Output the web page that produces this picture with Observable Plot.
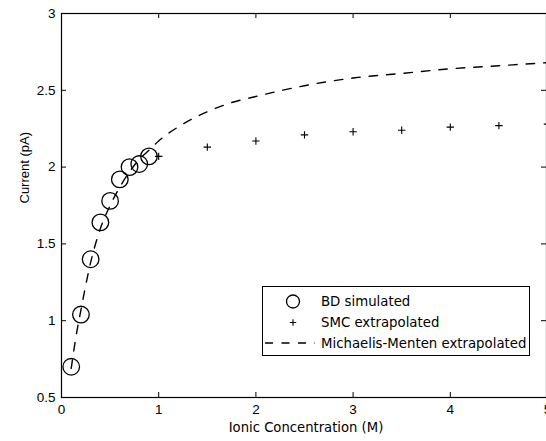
<!DOCTYPE html>
<html>
<head>
<meta charset="utf-8">
<script src="https://cdn.jsdelivr.net/npm/d3@7"></script>
<script src="https://cdn.jsdelivr.net/npm/@observablehq/plot@0.6"></script>
<style>
  html, body { margin: 0; padding: 0; background: #fff; }
  #wrap { position: relative; width: 546px; height: 441px; overflow: hidden; font-family: "Liberation Sans", Arial, sans-serif; }
  #legend { position: absolute; left: 262px; top: 286px; width: 268px; height: 70px; box-sizing: border-box;
            border: 1px solid #000; background: #fff; }
  #legend svg { display: block; }
</style>
</head>
<body>
<div id="wrap"></div>
<script>
// ---- data ----
const bdConc    = [0.1, 0.2, 0.3, 0.4, 0.5, 0.6, 0.7, 0.8, 0.9];
const bdCurrent = [0.70, 1.04, 1.40, 1.64, 1.78, 1.92, 2.00, 2.02, 2.07];

const smcConc    = [1, 1.5, 2, 2.5, 3, 3.5, 4, 4.5, 5];
const smcCurrent = [2.07, 2.13, 2.17, 2.21, 2.23, 2.24, 2.26, 2.27, 2.28];

const mmConc    = [0.1, 0.15, 0.2, 0.3, 0.4, 0.5, 0.6, 0.7, 0.8, 0.9, 1.0, 1.25, 1.5, 1.75, 2.0, 2.5, 3.0, 3.5, 4.0, 4.5, 5.0];
const mmCurrent = [0.69, 0.90, 1.07, 1.38, 1.60, 1.75, 1.87, 1.97, 2.05, 2.11, 2.17, 2.28, 2.36, 2.42, 2.46, 2.53, 2.58, 2.61, 2.64, 2.66, 2.68];

const xTicks = [0, 1, 2, 3, 4, 5];
const xTickLabels = ["0", "1", "2", "3", "4", "5"];
const yTicks = [0.5, 1, 1.5, 2, 2.5, 3];
const yTickLabels = ["0.5", "1", "1.5", "2", "2.5", "3"];

const xLabel = "Ionic Concentration (M)";
const yLabel = "Current (pA)";
const legendLabels = ["BD simulated", "SMC extrapolated", "Michaelis-Menten extrapolated"];

// ---- tables built from the arrays ----
const bd  = bdConc.map((c, i) => ({c, v: bdCurrent[i]}));
const smc = smcConc.map((c, i) => ({c, v: smcCurrent[i]}));
const mm  = mmConc.map((c, i) => ({c, v: mmCurrent[i]}));

const plusSymbol = {
  draw(context, size) {
    const h = Math.sqrt(size / Math.PI);
    context.moveTo(-h, 0); context.lineTo(h, 0);
    context.moveTo(0, -h); context.lineTo(0, h);
  }
};

const W = 546, H = 441, mL = 61, mT = 13, mB = 44, mR = 0;
const frameW = W - mL - mR, frameH = H - mT - mB;
const tk = 5;
const wideFont = "'DejaVu Sans', Verdana, sans-serif";
const baseFont = "'Liberation Sans', Arial, sans-serif";

const chart = Plot.plot({
  width: W, height: H,
  marginLeft: mL, marginTop: mT, marginBottom: mB, marginRight: mR,
  style: {fontFamily: baseFont, fontSize: "13.5px", background: "#fff", color: "#000"},
  x: {domain: [0, 5], range: [mL, 547], axis: null},
  y: {domain: [0.5, 3], range: [H - mB, mT], axis: null},
  marks: [
    // tick labels
    Plot.axisX(xTicks, {anchor: "bottom", tickSize: 0, tickPadding: 7, tickFormat: (d, i) => xTickLabels[i], fontSize: 13.5, label: null}),
    Plot.axisY(yTicks, {anchor: "left", tickSize: 0, tickPadding: 6, tickFormat: (d, i) => yTickLabels[i], fontSize: 13.5, label: null}),
    // inward ticks on all four sides
    Plot.tickX(xTicks, {x: d => d, insetTop: frameH - tk, stroke: "#000"}),
    Plot.tickX(xTicks, {x: d => d, insetBottom: frameH - tk, stroke: "#000"}),
    Plot.tickY(yTicks, {y: d => d, insetRight: frameW - tk, stroke: "#000"}),
    Plot.tickY(yTicks, {y: d => d, insetLeft: frameW - tk, stroke: "#000"}),
    Plot.frame({stroke: "#000", strokeWidth: 1.2}),
    // axis titles
    Plot.text([xLabel], {text: d => d, frameAnchor: "bottom", dy: 34, dx: 2, fontSize: 13.2, fontFamily: wideFont, fill: "#000"}),
    Plot.text([yLabel], {text: d => d, frameAnchor: "left", dx: -37, dy: -2, rotate: -90, fontSize: 13, fill: "#000"}),
    // data
    Plot.line(mm, {x: "c", y: "v", stroke: "#000", strokeWidth: 1.4, strokeDasharray: "8.5,9", curve: "monotone-x"}),
    Plot.dot(bd, {x: "c", y: "v", r: 8.3, stroke: "#000", strokeWidth: 1.3, fill: "none"}),
    Plot.dot(smc, {x: "c", y: "v", r: 3.7, symbol: plusSymbol, stroke: "#000", strokeWidth: 1.1, fill: "none"})
  ]
});

const wrap = document.getElementById("wrap");
wrap.appendChild(chart);

// ---- legend ----
const legend = document.createElement("div");
legend.id = "legend";
const ns = "http://www.w3.org/2000/svg";
const ls = document.createElementNS(ns, "svg");
ls.setAttribute("width", 266); ls.setAttribute("height", 68);
const rowsY = [14.5, 35.5, 56];
const symX = 30, textX = 58;
function el(tag, attrs) { const e = document.createElementNS(ns, tag); for (const k in attrs) e.setAttribute(k, attrs[k]); return e; }
ls.appendChild(el("circle", {cx: symX, cy: rowsY[0], r: 6.5, fill: "none", stroke: "#000", "stroke-width": 1.3}));
ls.appendChild(el("path", {d: `M${symX-3.2},${rowsY[1]}h6.4M${symX},${rowsY[1]-3.2}v6.4`, stroke: "#000", "stroke-width": 1.1, fill: "none"}));
ls.appendChild(el("line", {x1: 2, x2: 52, y1: rowsY[2], y2: rowsY[2], stroke: "#000", "stroke-width": 1.4, "stroke-dasharray": "8,8.5"}));
legendLabels.forEach((t, i) => {
  const tx = el("text", {x: textX, y: rowsY[i], dy: "0.35em", "font-family": wideFont, "font-size": 13.3, fill: "#000"});
  tx.textContent = t;
  ls.appendChild(tx);
});
legend.appendChild(ls);
wrap.appendChild(legend);
</script>
</body>
</html>
